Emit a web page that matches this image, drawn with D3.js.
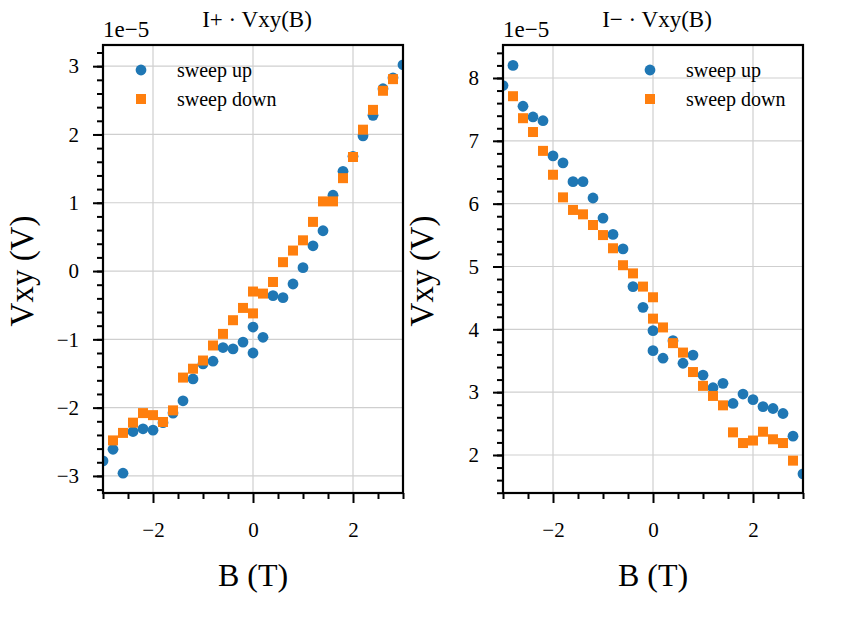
<!DOCTYPE html>
<html>
<head>
<meta charset="utf-8">
<script src="https://cdn.jsdelivr.net/npm/d3@7"></script>
<style>
body{margin:0;background:#fff}
text{font-family:"Liberation Serif","Times New Roman",serif;fill:#000}
</style>
</head>
<body>
<script>
// field values, units of 1e-5 V
const bUp=[-3,-2.8,-2.6,-2.4,-2.2,-2,-1.8,-1.6,-1.4,-1.2,-1,-0.8,-0.6,-0.4,-0.2,0,0,0.2,0.4,0.6,0.8,1,1.2,1.4,1.6,1.8,2,2.2,2.4,2.6,2.8,3]
const bDown=[-2.8,-2.6,-2.4,-2.2,-2,-1.8,-1.6,-1.4,-1.2,-1,-0.8,-0.6,-0.4,-0.2,0,0,0.2,0.4,0.6,0.8,1,1.2,1.4,1.6,1.8,2,2.2,2.4,2.6,2.8]

const plusUp=[-2.78,-2.61,-2.96,-2.35,-2.31,-2.33,-2.22,-2.08,-1.90,-1.58,-1.36,-1.32,-1.12,-1.14,-1.04,-0.82,-1.20,-0.97,-0.36,-0.39,-0.19,0.05,0.37,0.59,1.11,1.46,1.68,1.98,2.28,2.67,2.83,3.02]
const plusDown=[-2.48,-2.37,-2.22,-2.08,-2.11,-2.21,-2.04,-1.56,-1.43,-1.31,-1.09,-0.92,-0.72,-0.54,-0.62,-0.30,-0.33,-0.16,0.13,0.30,0.45,0.72,1.02,1.02,1.36,1.67,2.07,2.36,2.64,2.81]

const minusUp=[7.88,8.20,7.55,7.38,7.32,6.76,6.65,6.35,6.35,6.09,5.77,5.51,5.28,4.68,4.35,3.98,3.66,3.54,3.82,3.46,3.59,3.27,3.07,3.14,2.82,2.97,2.88,2.77,2.74,2.66,2.30,1.70]
const minusDown=[7.71,7.36,7.14,6.84,6.46,6.10,5.90,5.83,5.66,5.50,5.29,5.02,4.89,4.68,4.51,4.17,4.03,3.78,3.63,3.32,3.10,2.94,2.79,2.36,2.19,2.23,2.37,2.25,2.19,1.91]

const xTicks=[-2,0,2]
const xMinorTicks=[-3,-2.5,-1.5,-1,-0.5,0.5,1,1.5,2.5,3]
const plusTicks=[-3,-2,-1,0,1,2,3]
const minusTicks=[2,3,4,5,6,7,8]

const W=866,H=633
const blue="#1f77b4",orange="#ff7f0e"
const fmt=d=>d<0?"\u2212"+Math.abs(d):""+d

const svg=d3.select("body").append("svg")
    .attr("width",W)
    .attr("height",H)
svg.append("rect").attr("width",W).attr("height",H).attr("fill","#fff")

function panel(opt){
    const x=d3.scaleLinear().domain([-3,3]).range([opt.left,opt.left+300])
    const y=d3.scaleLinear().domain(opt.ydom).range([493,45])
    const g=svg.append("g")
    const id="clip"+opt.left
    g.append("clipPath").attr("id",id).append("rect")
        .attr("x",opt.left).attr("y",45).attr("width",300).attr("height",448)

    // grid
    g.selectAll(".vg").data(xTicks).enter().append("line")
        .attr("x1",d=>x(d)).attr("x2",d=>x(d)).attr("y1",45).attr("y2",493)
        .attr("stroke","#cfcfcf").attr("stroke-width",1.2)
    g.selectAll(".hg").data(opt.ticks).enter().append("line")
        .attr("y1",d=>y(d)).attr("y2",d=>y(d)).attr("x1",opt.left).attr("x2",opt.left+300)
        .attr("stroke","#cfcfcf").attr("stroke-width",1.2)

    const pts=g.append("g").attr("clip-path","url(#"+id+")")
    pts.selectAll("circle").data(d3.zip(bUp,opt.up)).enter().append("circle")
        .attr("cx",d=>x(d[0])).attr("cy",d=>y(d[1])).attr("r",5.4).attr("fill",blue)
    pts.selectAll("rect").data(d3.zip(bDown,opt.down)).enter().append("rect")
        .attr("x",d=>x(d[0])-5).attr("y",d=>y(d[1])-5).attr("width",10).attr("height",10).attr("fill",orange)

    // axes, minor ticks every 0.2 on y
    const minor=[]
    for(let v=Math.ceil(opt.ydom[0]*5);v<=Math.floor(opt.ydom[1]*5);v++) minor.push(v/5)
    const ya=d3.axisLeft(y).tickValues(opt.ticks).tickFormat(fmt).tickSize(10).tickPadding(14)
    const yMinor=d3.axisLeft(y).tickValues(minor).tickFormat("").tickSize(6)
    const xa=d3.axisBottom(x).tickValues(xTicks).tickFormat(fmt).tickSize(10).tickPadding(19)
    const xMinor=d3.axisBottom(x).tickValues(xMinorTicks).tickFormat("").tickSize(6)

    for(const [a,t] of [[yMinor,`translate(${opt.left},0)`],[ya,`translate(${opt.left},0)`],[xMinor,"translate(0,493)"],[xa,"translate(0,493)"]]){
        const ag=g.append("g").attr("transform",t).call(a)
        ag.select(".domain").remove()
        ag.selectAll("line").attr("stroke","#000").attr("stroke-width",2)
        ag.selectAll("text").style("font-family",'"Liberation Serif","Times New Roman",serif').attr("font-size",21)
    }

    g.append("rect").attr("x",opt.left).attr("y",45).attr("width",300).attr("height",448)
        .attr("fill","none").attr("stroke","#000").attr("stroke-width",2.2)

    g.append("text").attr("x",opt.left).attr("y",37).attr("font-size",23).text("1e\u22125")
    g.append("text").attr("x",opt.left+154).attr("y",27).attr("text-anchor","middle").attr("font-size",23).text(opt.title)
    g.append("text").attr("x",opt.left+150).attr("y",586).attr("text-anchor","middle").attr("font-size",32).text("B (T)")
    g.append("text").attr("transform",`translate(${opt.left-70},271) rotate(-90)`).attr("text-anchor","middle").attr("font-size",33).text("Vxy (V)")

    // legend
    const lg=g.append("g")
    lg.append("circle").attr("cx",opt.legX).attr("cy",70).attr("r",5.4).attr("fill",blue)
    lg.append("rect").attr("x",opt.legX-5).attr("y",94).attr("width",10).attr("height",10).attr("fill",orange)
    lg.append("text").attr("x",opt.legX+36).attr("y",77).attr("font-size",20).text("sweep up")
    lg.append("text").attr("x",opt.legX+36).attr("y",106).attr("font-size",20).text("sweep down")
}

panel({left:103,ydom:[-3.25,3.31],ticks:plusTicks,up:plusUp,down:plusDown,title:"I+ \u00b7 Vxy(B)",legX:141})
panel({left:503,ydom:[1.395,8.525],ticks:minusTicks,up:minusUp,down:minusDown,title:"I\u2212 \u00b7 Vxy(B)",legX:650})
</script>
</body>
</html>
